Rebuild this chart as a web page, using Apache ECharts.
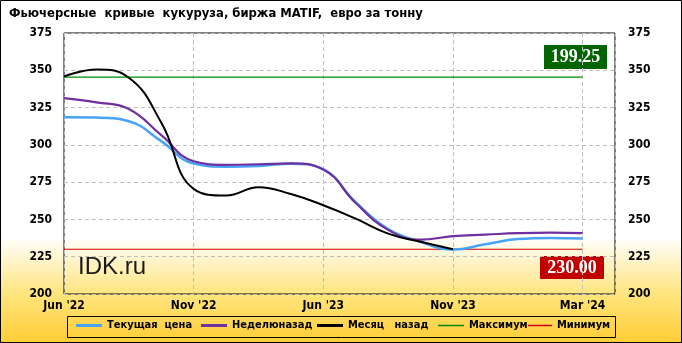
<!DOCTYPE html>
<html>
<head>
<meta charset="utf-8">
<script src="https://cdn.jsdelivr.net/npm/echarts@6/dist/echarts.min.js"></script>
<style>
html,body{margin:0;padding:0;background:#fff;}
#c{width:682px;height:343px;}
</style>
</head>
<body>
<div id="c"></div>
<script>
// ---- data ----
const titleText = "Фьючерсные  кривые  кукуруза, биржа MATIF,  евро за тонну";
const tickLabels = ["Jun '22", "Nov '22", "Jun '23", "Nov '23", "Mar '24"];
const pointsPerLabel = 4;           // curve points between labelled contract months
const totalPoints = 18;             // points along the axis (last one is an empty slot)
const seriesNames = ["Текущая  цена", "Неделюназад", "Месяц   назад", "Максимум", "Минимум"];
const currentPrice = [318.5, 318.3, 315.8, 302.5, 287.5, 285.4, 285.9, 287.4, 283.5, 261.5, 243.5, 235.0, 229.8, 233.3, 236.8, 237.6, 237.2];
const weekAgo      = [331.3, 328.5, 324.0, 306.5, 289.0, 286.6, 287.0, 287.6, 283.5, 261.0, 243.0, 236.4, 238.8, 239.8, 240.8, 241.2, 240.8];
const monthAgo     = [345.8, 350.5, 345.0, 315.0, 270.5, 266.0, 271.6, 267.0, 259.5, 250.5, 240.5, 235.0, 230.0];
const maxLine = 345.4;
const minLine = 230.0;
const maxBadge = "199.25";
const minBadge = "230.00";
const watermark = "IDK.ru";

// ---- chart ----
const toPairs = arr => arr.map((v, i) => [i, v]);
const lastIdx = currentPrice.length - 1;
const colors = ['#47A3F5', '#7030A0', '#000000', '#008A00', '#D00000'];
const axisFont = {fontFamily: 'DejaVu Sans Condensed, DejaVu Sans', fontWeight: 'bold', fontSize: 12, color: '#000'};

const chart = echarts.init(document.getElementById('c'), null, {renderer: 'canvas'});

const legendX = [76, 201, 317, 438, 528];
const legendIconW = [26, 26, 26, 26, 24];
const legendIconH = [3, 3, 3, 1.5, 1.5];
const legends = seriesNames.map((n, i) => ({
  data: [n], left: legendX[i], top: 320, itemWidth: legendIconW[i], itemHeight: legendIconH[i], icon: 'rect',
  padding: 0, itemGap: 0,
  textStyle: {fontFamily: 'DejaVu Sans Condensed, DejaVu Sans', fontWeight: 'bold', fontSize: 11, color: '#000'},
  selectedMode: false
}));

chart.setOption({
  animation: false,
  backgroundColor: {type: 'linear', x: 0, y: 0, x2: 0, y2: 1, colorStops: [
    {offset: 0, color: '#ffffff'}, {offset: 0.69, color: '#ffffff'},
    {offset: 0.86, color: '#FFE47C'}, {offset: 1, color: '#FFCC35'}]},
  title: {text: titleText, left: 9, top: 7, padding: 0,
    textStyle: {fontFamily: 'DejaVu Sans Condensed, DejaVu Sans', fontWeight: 'bold', fontSize: 12.9, color: '#000'}},
  grid: {left: 64, top: 33, right: 67, bottom: 49, show: true, borderColor: '#000', borderWidth: 1, backgroundColor: 'transparent'},
  legend: legends,
  xAxis: {
    type: 'value', min: 0, max: totalPoints - 1, interval: pointsPerLabel,
    axisLine: {show: false}, axisTick: {show: false},
    axisLabel: {...axisFont, margin: 6, formatter: v => tickLabels[v / pointsPerLabel] || ''},
    splitLine: {show: true, lineStyle: {color: '#BDBDBD', type: [4, 3], width: 1}}
  },
  yAxis: [
    {type: 'value', min: 200, max: 375, interval: 25, position: 'left',
      axisLine: {show: false}, axisTick: {show: false},
      axisLabel: {...axisFont, margin: 12},
      splitLine: {show: true, lineStyle: {color: '#BDBDBD', type: [4, 3], width: 1}}},
    {type: 'value', min: 200, max: 375, interval: 25, position: 'right',
      axisLine: {show: false}, axisTick: {show: false},
      axisLabel: {...axisFont, margin: 13},
      splitLine: {show: false}}
  ],
  series: [
    {name: seriesNames[0], type: 'line', data: toPairs(currentPrice), smooth: 0.45, symbol: 'none', z: 3,
      lineStyle: {color: colors[0], width: 2.5}, itemStyle: {color: colors[0]}},
    {name: seriesNames[1], type: 'line', data: toPairs(weekAgo), smooth: 0.45, symbol: 'none', z: 4,
      lineStyle: {color: colors[1], width: 2.2}, itemStyle: {color: colors[1]}},
    {name: seriesNames[2], type: 'line', data: toPairs(monthAgo), smooth: 0.45, symbol: 'none', z: 5,
      lineStyle: {color: colors[2], width: 2}, itemStyle: {color: colors[2]}},
    {name: seriesNames[3], type: 'line', data: [[0, maxLine], [lastIdx, maxLine]], symbol: 'none', z: 2,
      lineStyle: {color: colors[3], width: 1.2}, itemStyle: {color: colors[3]}},
    {name: seriesNames[4], type: 'line', data: [[0, minLine], [lastIdx, minLine]], symbol: 'none', z: 2,
      lineStyle: {color: colors[4], width: 1.2}, itemStyle: {color: colors[4]}}
  ],
  graphic: [
    {type: 'rect', shape: {x: 0.5, y: 0.5, width: 681, height: 342}, style: {fill: 'none', stroke: '#000', lineWidth: 1}, silent: true, z: 100},
    {type: 'rect', shape: {x: 67.5, y: 316.5, width: 548, height: 21}, style: {fill: 'none', stroke: '#000', lineWidth: 1}, silent: true},
    {type: 'text', left: 78, top: 255, style: {text: watermark, font: '24px "Liberation Sans", Arial, sans-serif', fill: '#1a1a1a'}, silent: true},
    {type: 'group', left: 544, top: 45, children: [
      {type: 'rect', shape: {x: 0, y: 0, width: 63, height: 24}, style: {fill: '#006400'}},
      {type: 'text', x: 31.5, y: 12.5, style: {text: maxBadge, font: 'bold 18px "Liberation Serif", serif', fill: '#fff', align: 'center', verticalAlign: 'middle'}}
    ]},
    {type: 'group', left: 540, top: 256, children: [
      {type: 'rect', shape: {x: 0, y: 0, width: 64, height: 23}, style: {fill: '#C00000'}},
      {type: 'text', x: 32, y: 12, style: {text: minBadge, font: 'bold 18px "Liberation Serif", serif', fill: '#fff', align: 'center', verticalAlign: 'middle'}}
    ]}
  ]
});
</script>
</body>
</html>
